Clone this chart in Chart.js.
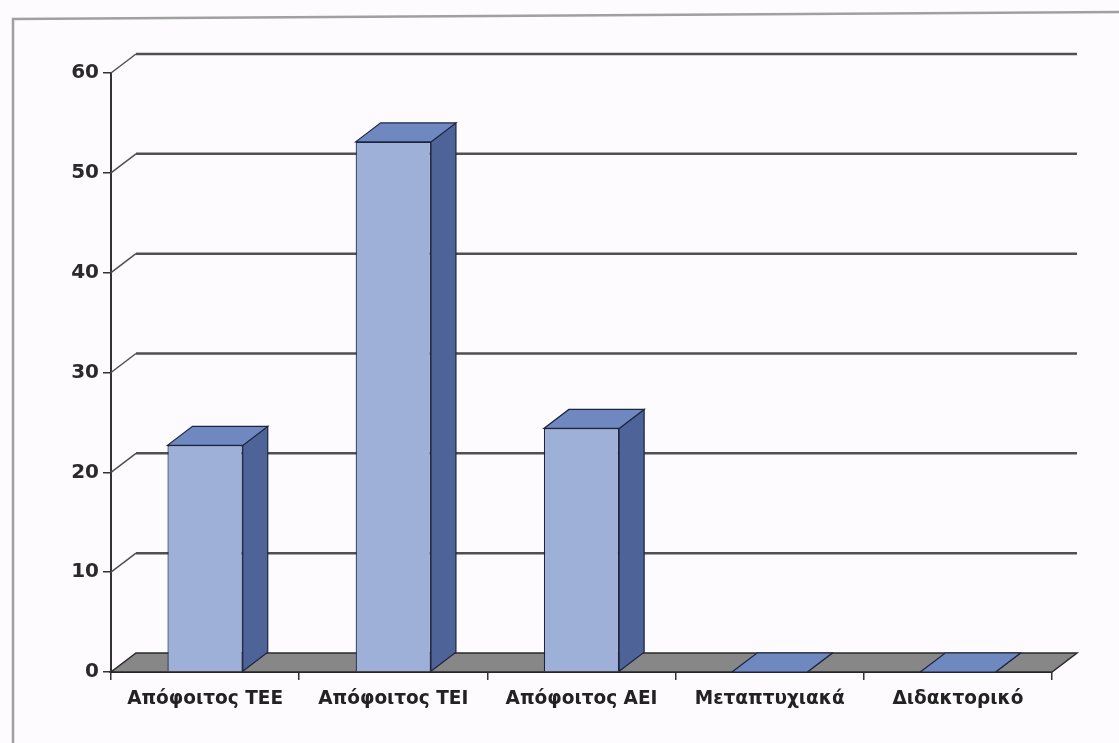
<!DOCTYPE html>
<html>
<head>
<meta charset="utf-8">
<script src="https://cdn.jsdelivr.net/npm/chart.js@4.4.1/dist/chart.umd.min.js"></script>
<style>
  html, body { margin: 0; padding: 0; background: #fdfbfd; }
  #wrap { width: 1119px; height: 743px; }
</style>
</head>
<body>
<div id="wrap"><canvas id="c" width="1119" height="743"></canvas></div>
<script>
const categories = ['Απόφοιτος ΤΕΕ', 'Απόφοιτος ΤΕΙ', 'Απόφοιτος ΑΕΙ', 'Μεταπτυχιακά', 'Διδακτορικό'];
const values = [22.7, 53.1, 24.4, 0, 0];
const yMin = 0, yMax = 60, yStep = 10;

const DX = 25, DY = -19;

const framePlugin = {
  id: 'frame',
  beforeDraw(chart) {
    const ctx = chart.ctx;
    ctx.save();
    ctx.fillStyle = '#fdfbfd';
    ctx.fillRect(0, 0, chart.width, chart.height);
    ctx.strokeStyle = '#a0a0a0';
    ctx.lineWidth = 2.5;
    ctx.beginPath();
    ctx.moveTo(13, 743);
    ctx.lineTo(13, 19);
    ctx.lineTo(1119, 12);
    ctx.stroke();
    ctx.restore();
  }
};

const threeD = {
  id: 'threeD',
  beforeDatasetsDraw(chart) {
    const ctx = chart.ctx;
    const y = chart.scales.y, x = chart.scales.x;
    const left = x.left, right = x.right, bottom = y.getPixelForValue(yMin);
    ctx.save();
    ctx.strokeStyle = '#505050';
    y.ticks.forEach(t => {
      if (t.value === yMin) return;
      const py = y.getPixelForValue(t.value);
      ctx.lineWidth = 1.5;
      ctx.beginPath();
      ctx.moveTo(left, py);
      ctx.lineTo(left + DX, py + DY);
      ctx.stroke();
      ctx.lineWidth = 2.5;
      ctx.beginPath();
      ctx.moveTo(left + DX, py + DY);
      ctx.lineTo(right + DX, py + DY);
      ctx.stroke();
    });
    ctx.fillStyle = '#878787';
    ctx.strokeStyle = '#2a2a2a';
    ctx.lineWidth = 1.5;
    ctx.beginPath();
    ctx.moveTo(left, bottom);
    ctx.lineTo(right, bottom);
    ctx.lineTo(right + DX, bottom + DY);
    ctx.lineTo(left + DX, bottom + DY);
    ctx.closePath();
    ctx.fill();
    ctx.stroke();
    ctx.restore();
  },
  afterDatasetsDraw(chart) {
    const ctx = chart.ctx;
    const meta = chart.getDatasetMeta(0);
    ctx.save();
    ctx.strokeStyle = '#1c2540';
    ctx.lineWidth = 1.2;
    meta.data.forEach(bar => {
      const p = bar.getProps(['x', 'y', 'base', 'width'], true);
      const x0 = p.x - p.width / 2, x1 = p.x + p.width / 2;
      const yt = p.y, yb = p.base;
      ctx.fillStyle = '#4e6397';
      ctx.beginPath();
      ctx.moveTo(x1, yt);
      ctx.lineTo(x1 + DX, yt + DY);
      ctx.lineTo(x1 + DX, yb + DY);
      ctx.lineTo(x1, yb);
      ctx.closePath();
      ctx.fill();
      ctx.stroke();
      ctx.fillStyle = '#7088c0';
      ctx.beginPath();
      ctx.moveTo(x0, yt);
      ctx.lineTo(x1, yt);
      ctx.lineTo(x1 + DX, yt + DY);
      ctx.lineTo(x0 + DX, yt + DY);
      ctx.closePath();
      ctx.fill();
      ctx.stroke();
    });
    ctx.restore();
  }
};

new Chart(document.getElementById('c'), {
  type: 'bar',
  data: {
    labels: categories,
    datasets: [{
      data: values,
      backgroundColor: '#9eb0d8',
      borderColor: '#1c2540',
      borderWidth: 1.2,
      barPercentage: 0.4,
      categoryPercentage: 1.0
    }]
  },
  options: {
    responsive: false,
    animation: false,
    events: [],
    layout: { padding: { top: 73, right: 67, left: 0, bottom: 0 } },
    plugins: { legend: { display: false }, tooltip: { enabled: false }, title: { display: false } },
    scales: {
      x: {
        offset: true,
        grid: { offset: true, drawOnChartArea: false, drawTicks: true, tickLength: 8, color: '#333', lineWidth: 1.5 },
        border: { display: true, color: '#222', width: 2 },
        ticks: { color: '#222', font: { family: 'DejaVu Sans', weight: 'bold', size: 18.5 }, padding: 8, maxRotation: 0, autoSkip: false },
        afterFit(scale) { scale.height = 71; }
      },
      y: {
        min: yMin, max: yMax,
        grid: { drawOnChartArea: false, drawTicks: true, tickLength: 8, color: '#333', lineWidth: 1.5 },
        border: { display: true, color: '#333', width: 2 },
        ticks: { stepSize: yStep, color: '#2a2a2a', font: { family: 'DejaVu Sans', weight: 'bold', size: 20 }, padding: 4 },
        afterFit(scale) { scale.width = 111; }
      }
    }
  },
  plugins: [framePlugin, threeD]
});
</script>
</body>
</html>
